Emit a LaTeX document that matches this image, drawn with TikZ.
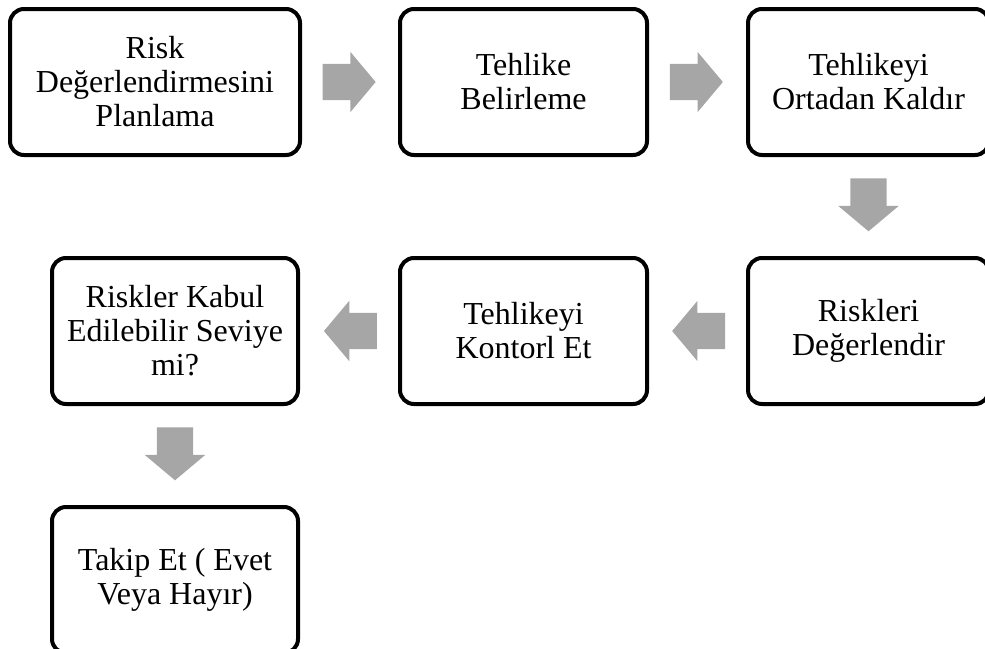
\documentclass[tikz,border=0pt]{standalone}
\usepackage{fontspec}
\setmainfont{Liberation Serif}
\usepackage{tikz}
\usetikzlibrary{positioning, shapes.arrows}
\definecolor{arrgray}{RGB}{166,166,166}
\tikzset{
  stepbox/.style = {draw, line width = 4pt, rounded corners = 14pt, align = center,
    minimum height = 146pt, inner sep = 0pt, font = \fontsize{32}{34}\selectfont},
  blockarrow/.style = {single arrow, fill = arrgray, draw = none, inner xsep = 0pt,
    inner ysep = 18pt, outer sep = 0pt, minimum height = 53pt, anchor = tail,
    pos = 0.215, single arrow head extend = 12pt, single arrow tip angle = 100}
}

\begin{document}
\begin{tikzpicture} [x = 1pt, y = 1pt]
\useasboundingbox (0,0) rectangle (985,-648);
\node (p1) [stepbox, minimum width = 290pt] at (155,-82) {Risk\\Değerlendirmesini\\Planlama};
\node (p2) [stepbox, minimum width = 247pt, right = 96pt of p1] {Tehlike\\Belirleme};
\node (p3) [stepbox, minimum width = 241pt, right = 97pt of p2] {Tehlikeyi\\Ortadan Kaldır};
\node (p4) [stepbox, minimum width = 241pt, below = 99pt of p3] {Riskleri\\Değerlendir};
\node (p5) [stepbox, minimum width = 247pt, left = 97pt of p4] {Tehlikeyi\\Kontorl Et};
\node (p6) [stepbox, minimum width = 246pt, left = 98pt of p5] {Riskler Kabul\\Edilebilir Seviye\\mi?};
\node (p7) [stepbox, minimum width = 246pt, below = 99pt of p6] {Takip Et ( Evet\\Veya Hayır)};
\path
    (p1) -- node [blockarrow] {} (p2)
    (p2) -- node [blockarrow] {} (p3)
    (p3) -- node [blockarrow, rotate = -90] {} (p4)
    (p4) -- node [blockarrow, rotate = 180] {} (p5)
    (p5) -- node [blockarrow, rotate = 180] {} (p6)
    (p6) -- node [blockarrow, rotate = -90] {} (p7);
\end{tikzpicture}
\end{document}
